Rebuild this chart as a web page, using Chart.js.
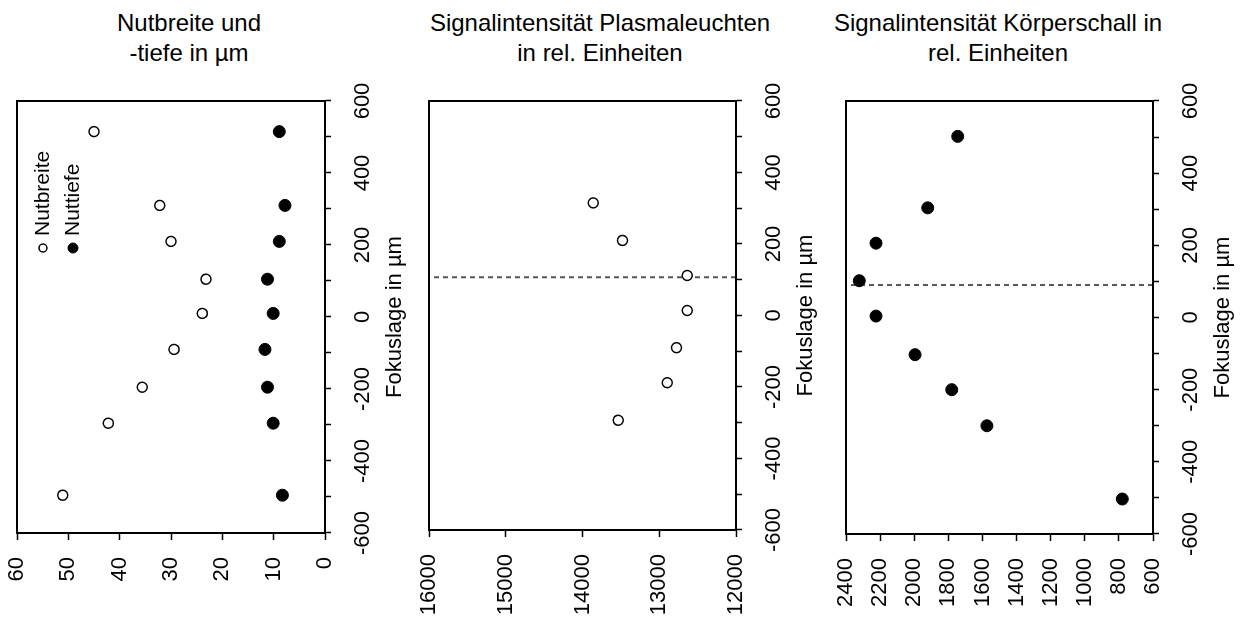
<!DOCTYPE html>
<html>
<head>
<meta charset="utf-8">
<script src="https://cdn.jsdelivr.net/npm/chart.js@4.4.1/dist/chart.umd.min.js"></script>
<style>
  body { margin: 0; background: #fff; width: 1247px; height: 619px; overflow: hidden; position: relative;
         font-family: "Liberation Sans", Arial, sans-serif; }
  .title { position: absolute; top: 8px; width: 400px; text-align: center; font-size: 24px; line-height: 30px; color: #000; }
  .panel { position: absolute; top: 75px; height: 544px; }
  /* charts are drawn lying on their side and turned upright */
  .panel canvas { position: absolute; left: 0; top: 0; transform-origin: 0 0; transform: translateY(544px) rotate(-90deg); }
</style>
</head>
<body>
<div class="title" style="left:-11px">Nutbreite und<br>-tiefe in µm</div>
<div class="title" style="left:400px">Signalintensität Plasmaleuchten<br>in rel. Einheiten</div>
<div class="title" style="left:798px">Signalintensität Körperschall in<br>rel. Einheiten</div>

<div class="panel" style="left:0px;width:415px"><canvas id="chart1" width="544" height="415"></canvas></div>
<div class="panel" style="left:415px;width:411px"><canvas id="chart2" width="544" height="411"></canvas></div>
<div class="panel" style="left:830px;width:413px"><canvas id="chart3" width="544" height="413"></canvas></div>

<script>
// Fokuslage in µm
const focus1 = [515, 310, 210, 105, 10, -90, -195, -295, -495];
const nutbreite = [45.0, 32.2, 30.0, 23.2, 23.9, 29.4, 35.6, 42.2, 51.1];
const nuttiefe = [8.9, 7.8, 8.9, 11.2, 10.1, 11.7, 11.2, 10.1, 8.3];

const focus2 = [315, 210, 112, 14, -90, -188, -293];
const plasma = [13860, 13480, 12635, 12635, 12775, 12895, 13535];
const plasmaOptimum = 107;

const focus3 = [502, 304, 206, 102, 4, -103, -200, -300, -503];
const koerperschall = [1745, 1921, 2224, 2322, 2224, 1995, 1780, 1574, 780];
const schallOptimum = 90;

const focusRange = [-600, 600, 100];
const breiteRange = [0, 60, 10];
const plasmaRange = [12000, 16000, 1000];
const schallRange = [600, 2400, 200];

Chart.defaults.font.family = '"Liberation Sans", Arial, sans-serif';
Chart.defaults.font.size = 22;
Chart.defaults.color = '#000';

const toPoints = (xs, ys) => xs.map((x, i) => ({ x, y: ys[i] }));

const openDots = {
  pointRadius: 5, pointBorderWidth: 1.5,
  pointBackgroundColor: '#fff', pointBorderColor: '#000'
};
const filledDots = {
  pointRadius: 6, pointBorderWidth: 1,
  pointBackgroundColor: '#000', pointBorderColor: '#000'
};

function optimumLine(pos, range) {
  return {
    type: 'line',
    data: [{ x: pos, y: range[0] }, { x: pos, y: range[1] }],
    showLine: true, pointRadius: 0,
    borderColor: '#555', borderWidth: 2, borderDash: [5, 4]
  };
}

const frame = {
  id: 'frame',
  afterDraw(chart) {
    const { ctx, chartArea: a } = chart;
    ctx.save();
    ctx.strokeStyle = '#000';
    ctx.lineWidth = 2;
    ctx.strokeRect(a.left, a.top, a.right - a.left, a.bottom - a.top);
    ctx.restore();
  }
};

// legend sits inside the plot, so draw it by hand
const innerLegend = {
  id: 'innerLegend',
  afterDraw(chart) {
    const { ctx, chartArea: a } = chart;
    ctx.save();
    ctx.font = '21px "Liberation Sans", Arial, sans-serif';
    ctx.textBaseline = 'middle';
    chart.data.datasets.forEach((ds, i) => {
      const x = a.left + 285, y = a.top + 26 + i * 30;
      ctx.beginPath();
      ctx.arc(x, y, ds.pointRadius - 1, 0, Math.PI * 2);
      ctx.fillStyle = ds.pointBackgroundColor;
      ctx.fill();
      ctx.lineWidth = ds.pointBorderWidth;
      ctx.strokeStyle = ds.pointBorderColor;
      ctx.stroke();
      ctx.fillStyle = '#000';
      ctx.fillText(ds.label, x + 12, y);
    });
    ctx.restore();
  }
};

function noEdgePadding(s) {
  s.paddingLeft = 0; s.paddingRight = 0; s.paddingTop = 0; s.paddingBottom = 0;
}

function makePanel(id, datasets, range, geo, extra) {
  new Chart(document.getElementById(id), {
    type: 'scatter',
    data: { datasets },
    plugins: [frame].concat(extra || []),
    options: {
      responsive: false,
      animation: false,
      layout: { padding: { left: 0, right: 26, top: geo.top, bottom: 0 } },
      plugins: { legend: { display: false }, tooltip: { enabled: false } },
      scales: {
        x: {
          type: 'linear',
          min: focusRange[0], max: focusRange[1],
          grid: { drawOnChartArea: false, tickLength: 6, tickColor: '#000', tickWidth: 1.5 },
          border: { color: '#000', width: 2 },
          ticks: {
            stepSize: focusRange[2], autoSkip: false, maxRotation: 0, minRotation: 0, padding: 19,
            callback: v => (v % 200 === 0 ? v : '')
          },
          title: { display: true, text: 'Fokuslage in µm', padding: { top: 0, bottom: 7 } },
          afterFit: s => { s.height = 90; noEdgePadding(s); }
        },
        y: {
          type: 'linear',
          min: range[0], max: range[1],
          grid: { drawOnChartArea: false, tickLength: 7, tickColor: '#000', tickWidth: 1.5 },
          border: { color: '#000', width: 2 },
          ticks: { stepSize: range[2], padding: 17, callback: v => v },
          afterFit: s => { s.width = geo.yWidth; noEdgePadding(s); }
        }
      }
    }
  });
}

makePanel('chart1', [
  Object.assign({ label: 'Nutbreite', data: toPoints(focus1, nutbreite) }, openDots),
  Object.assign({ label: 'Nuttiefe', data: toPoints(focus1, nuttiefe) }, filledDots)
], breiteRange, { top: 17, yWidth: 86 }, [innerLegend]);

makePanel('chart2', [
  Object.assign({ label: 'Plasmaleuchten', data: toPoints(focus2, plasma) }, openDots),
  optimumLine(plasmaOptimum, plasmaRange)
], plasmaRange, { top: 14, yWidth: 89 });

makePanel('chart3', [
  Object.assign({ label: 'Körperschall', data: toPoints(focus3, koerperschall) }, filledDots),
  optimumLine(schallOptimum, schallRange)
], schallRange, { top: 16, yWidth: 85 });
</script>
</body>
</html>
